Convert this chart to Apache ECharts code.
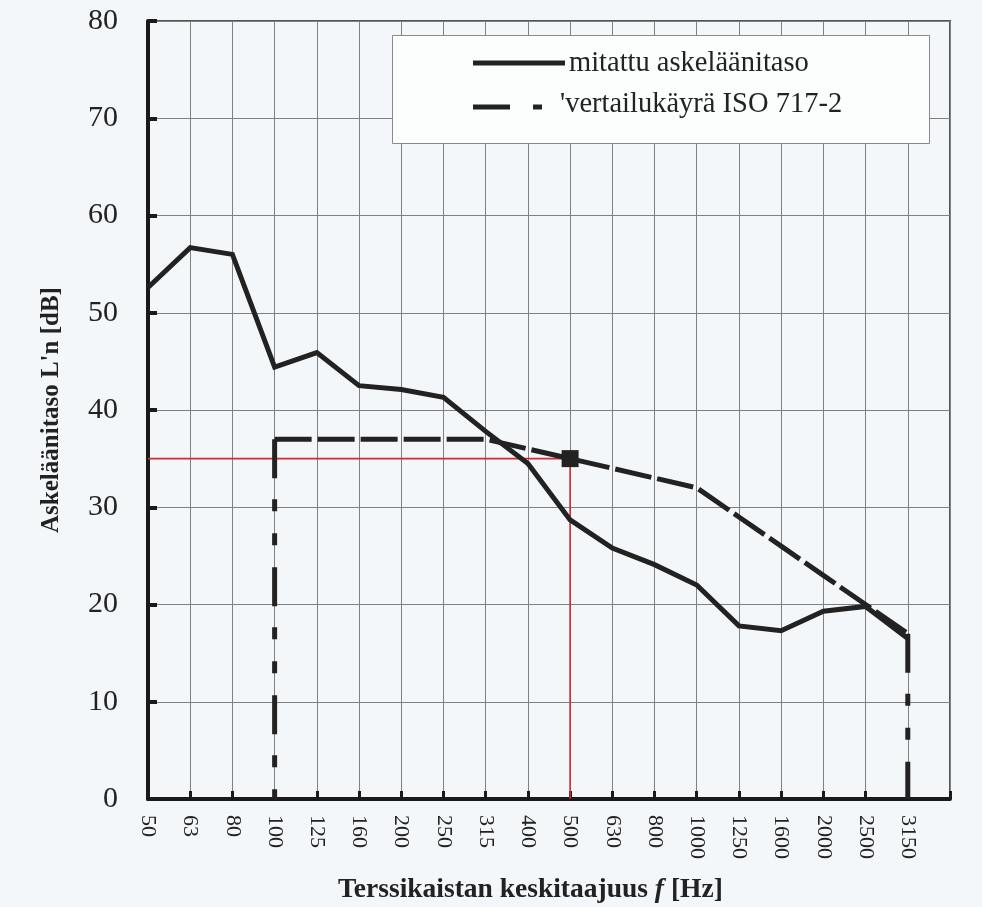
<!DOCTYPE html>
<html>
<head>
<meta charset="utf-8">
<script src="https://cdn.jsdelivr.net/npm/echarts@6/dist/echarts.min.js"></script>
<style>
html,body{margin:0;padding:0;background:#f4f7f9;}
#chart{width:982px;height:907px;}
</style>
</head>
<body>
<div id="chart"></div>
<script>
// Third-octave band centre frequencies (last empty slot closes the frame)
var categories = ['50','63','80','100','125','160','200','250','315','400','500','630','800','1000','1250','1600','2000','2500','3150',''];
// Measured impact sound level L'n [dB]
var measured = [52.6, 56.7, 56.0, 44.4, 45.9, 42.5, 42.1, 41.3, 37.8, 34.5, 28.7, 25.8, 24.1, 22.0, 17.8, 17.3, 19.3, 19.8, 16.5];
// Shifted ISO 717-2 reference curve
var reference = [null, null, null, 37, 37, 37, 37, 37, 37, 36, 35, 34, 33, 32, 29, 26, 23, 20, 17];
var refLeftDrop = [['100', 37], ['100', 0]];
var refRightDrop = [['3150', 17], ['3150', 0]];
var redHoriz = [['50', 35], ['500', 35]];
var redVert = [['500', 35], ['500', 0]];
var markerPoint = [['500', 35]];
var yTicks = [0, 80, 10]; // min, max, interval
var legendLabels = ['mitattu askeläänitaso', "'vertailukäyrä ISO 717-2"];
var yName = "Askeläänitaso L'n [dB]";

var serif = 'Liberation Serif';
var chart = echarts.init(document.getElementById('chart'), null, {renderer: 'canvas'});
chart.setOption({
  backgroundColor: '#f4f7f9',
  animation: false,
  grid: {left: 148, right: 32, top: 21, bottom: 108, show: true, borderColor: '#555', borderWidth: 2, backgroundColor: 'transparent'},
  xAxis: {
    type: 'category',
    data: categories,
    boundaryGap: false,
    axisLine: {show: true, onZero: false, lineStyle: {color: '#1a1a1a', width: 4}},
    axisTick: {show: true, inside: true, length: 8, interval: 0, lineStyle: {color: '#1a1a1a', width: 3}},
    axisLabel: {interval: 0, rotate: -90, fontFamily: serif, fontSize: 22, color: '#222', margin: 16},
    splitLine: {show: true, interval: 0, lineStyle: {color: '#808080', width: 1}}
  },
  yAxis: {
    type: 'value',
    min: yTicks[0], max: yTicks[1], interval: yTicks[2],
    name: yName,
    nameLocation: 'middle',
    nameGap: 84,
    nameRotate: 90,
    nameTextStyle: {fontFamily: serif, fontSize: 25, fontWeight: 'bold', color: '#222'},
    axisLine: {show: true, lineStyle: {color: '#1a1a1a', width: 4}},
    axisTick: {show: true, inside: true, length: 9, lineStyle: {color: '#1a1a1a', width: 4}},
    axisLabel: {fontFamily: serif, fontSize: 30, color: '#222', margin: 30},
    splitLine: {show: true, lineStyle: {color: '#808080', width: 1}}
  },
  series: [
    {type: 'line', data: redHoriz, symbol: 'none', lineStyle: {color: '#d42a32', width: 1.6}, z: 2},
    {type: 'line', data: redVert, symbol: 'none', lineStyle: {color: '#d42a32', width: 1.6}, z: 2},
    {type: 'line', data: reference, symbol: 'none', lineStyle: {color: '#222', width: 5, type: [37, 6], cap: 'butt'}, z: 3},
    {type: 'line', data: refLeftDrop, symbol: 'none', lineStyle: {color: '#222', width: 5, type: [39, 21, 12, 22, 12, 22], cap: 'butt'}, z: 3},
    {type: 'line', data: refRightDrop, symbol: 'none', lineStyle: {color: '#222', width: 5, type: [39, 21, 12, 22, 12, 22], cap: 'butt'}, z: 3},
    {type: 'line', data: measured, symbol: 'none', lineStyle: {color: '#222', width: 5, join: 'miter'}, z: 4},
    {type: 'scatter', data: markerPoint, symbol: 'rect', symbolSize: 17, itemStyle: {color: '#222', opacity: 1}, z: 5}
  ],
  graphic: [
    {type: 'rect', left: 392, top: 35, shape: {width: 537, height: 108}, style: {fill: '#fcfdfd', stroke: '#8a8a8a', lineWidth: 1}, z: 10},
    {type: 'line', shape: {x1: 473, y1: 63, x2: 565, y2: 63}, style: {stroke: '#222', lineWidth: 5}, z: 11},
    {type: 'text', left: 569, top: 49, style: {text: legendLabels[0], font: '28.5px "Liberation Serif"', fill: '#222'}, z: 11},
    {type: 'line', shape: {x1: 473, y1: 107, x2: 510, y2: 107}, style: {stroke: '#222', lineWidth: 5}, z: 11},
    {type: 'line', shape: {x1: 533, y1: 107, x2: 542, y2: 107}, style: {stroke: '#222', lineWidth: 5}, z: 11},
    {type: 'text', left: 560, top: 90, style: {text: legendLabels[1], font: '28.5px "Liberation Serif"', fill: '#222'}, z: 11},
    {type: 'text', left: 338, top: 876, style: {rich: {b: {fontFamily: serif, fontSize: 27.5, fontWeight: 'bold', fill: '#222'}, i: {fontFamily: serif, fontSize: 27.5, fontWeight: 'bold', fontStyle: 'italic', fill: '#222'}}, text: '{b|Terssikaistan keskitaajuus }{i|f}{b| [Hz]}'}, z: 11}
  ]
});
</script>
</body>
</html>
